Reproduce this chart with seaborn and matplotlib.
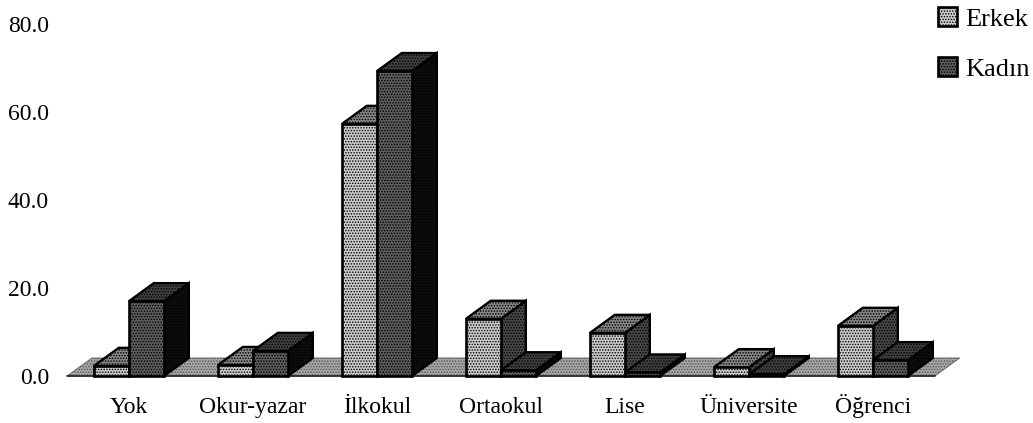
import pandas as pd
import matplotlib
matplotlib.use('Agg')
import matplotlib.pyplot as plt
from matplotlib.patches import Polygon, Patch
import seaborn as sns

categories = ['Yok', 'Okur-yazar', 'İlkokul', 'Ortaokul', 'Lise', 'Üniversite', 'Öğrenci']
erkek = [2.3, 2.5, 57.3, 13.0, 9.8, 2.0, 11.4]
kadin = [17.0, 5.7, 69.3, 1.3, 0.8, 0.4, 3.6]
y_ticks = [0, 20, 40, 60, 80]

df = pd.DataFrame({'kategori': categories * 2,
                   'cinsiyet': ['Erkek'] * len(categories) + ['Kadın'] * len(categories),
                   'deger': erkek + kadin})

sns.set_theme(style='white')
plt.rcParams['font.family'] = ['Liberation Serif', 'DejaVu Serif']
plt.rcParams['hatch.linewidth'] = 0.7

# fake 3d depth, in data units
DX = 0.2
DY = 4.1
HATCH = '......'

colors = {'Erkek': {'front': '#cacaca', 'top': '#858585', 'side': '#484848'},
          'Kadın': {'front': '#5c5c5c', 'top': '#404040', 'side': '#0e0e0e'}}

fig = plt.figure(figsize=(10.33, 4.23), dpi=100)
ax = fig.add_axes([67 / 1033, 47 / 423, 868 / 1033, 352 / 423])

sns.barplot(data=df, x='kategori', y='deger', hue='cinsiyet', order=categories,
            palette=[colors['Erkek']['front'], colors['Kadın']['front']],
            width=0.565, gap=0, edgecolor='black', linewidth=1.9, legend=False, ax=ax)

ax.set_xlim(-0.5, len(categories) - 0.5)
ax.set_ylim(0, 80)

# floor
x0, x1 = ax.get_xlim()
ax.add_patch(Polygon([(x0, 0), (x1, 0), (x1 + DX, DY), (x0 + DX, DY)], closed=True,
                     facecolor='#a6a6a6', edgecolor='#555555', hatch=HATCH, lw=0.5,
                     clip_on=False, zorder=1))
ax.plot([x0, x1], [0, 0], color='#222222', lw=1.2, clip_on=False, zorder=1.5)


def add_depth(bar, name, z):
    x = bar.get_x()
    w = bar.get_width()
    h = bar.get_height()
    top = [(x, h), (x + w, h), (x + w + DX, h + DY), (x + DX, h + DY)]
    side = [(x + w, 0), (x + w + DX, DY), (x + w + DX, h + DY), (x + w, h)]
    ax.add_patch(Polygon(side, closed=True, facecolor=colors[name]['side'], edgecolor='black',
                         hatch=HATCH, lw=1.7, clip_on=False, zorder=z))
    ax.add_patch(Polygon(top, closed=True, facecolor=colors[name]['top'], edgecolor='black',
                         hatch=HATCH, lw=1.7, clip_on=False, zorder=z))
    bar.set_zorder(z + 0.1)
    bar.set_hatch(HATCH)
    bar.set_clip_on(False)


for bar in ax.containers[0]:
    add_depth(bar, 'Erkek', 2)
for bar in ax.containers[1]:
    add_depth(bar, 'Kadın', 3)

ax.set_xlabel('')
ax.set_ylabel('')
ax.set_yticks(y_ticks)
ax.set_yticklabels([f'{v:.1f}' for v in y_ticks], fontsize=17, color='black')
ax.tick_params(axis='y', length=0, pad=13)
ax.tick_params(axis='x', length=0, pad=26.5, labelsize=17, labelcolor='black')
for label in ax.get_xticklabels():
    label.set_verticalalignment('baseline')
sns.despine(ax=ax, left=True, bottom=True)

handles = [Patch(facecolor=colors['Erkek']['front'], edgecolor='black', hatch=HATCH, lw=1.9, label='Erkek'),
           Patch(facecolor=colors['Kadın']['front'], edgecolor='black', hatch=HATCH, lw=1.9, label='Kadın')]
fig.legend(handles=handles, loc='upper left', bbox_to_anchor=(930 / 1033, 1.002), frameon=False,
           fontsize=19, labelcolor='black', handlelength=0.72, handleheight=0.72, handletextpad=0.3,
           labelspacing=1.0, borderpad=0.3, borderaxespad=0)

fig.savefig('out.png', dpi=100, facecolor='white')
